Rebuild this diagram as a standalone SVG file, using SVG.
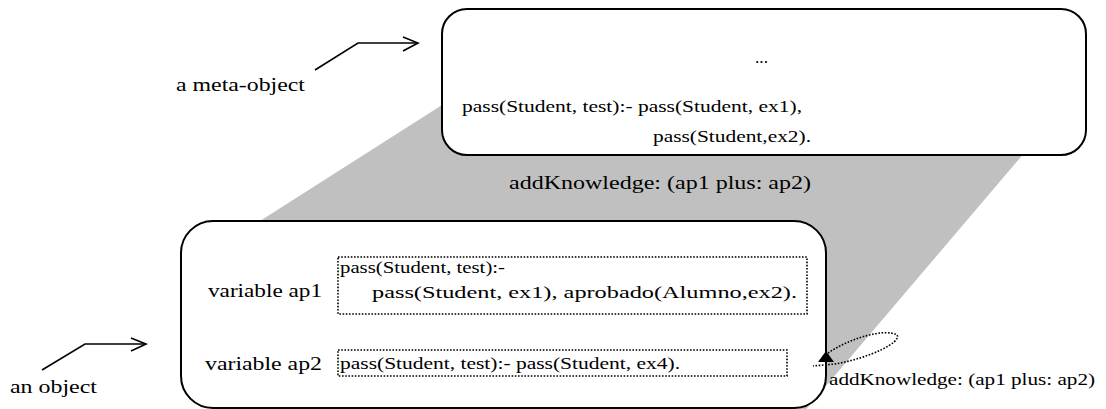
<svg xmlns="http://www.w3.org/2000/svg" width="1106" height="409" viewBox="0 0 1106 409">
<style>
text{font-family:"Liberation Serif","Times New Roman",serif;fill:#000}
.lbl{font-size:18px}
.code{font-size:16px}
.box{fill:#fff;stroke:#000;stroke-width:2}
.dot{fill:none;stroke:#000;stroke-width:1.6;stroke-dasharray:1.6 1.6}
.ln{fill:none;stroke:#000;stroke-width:1.6}
</style>
<rect width="1106" height="409" fill="#fff"/>
<polygon id="shadow" points="442,105 1031,145 797,420 300,420 260,221" fill="#c0c0c0"/>
<g id="meta-object">
<rect class="box" x="442" y="9" width="644" height="146" rx="25" ry="25"/>
<text class="code" x="755" y="63" textLength="13" lengthAdjust="spacingAndGlyphs">...</text>
<text class="code" x="462" y="112" textLength="340" lengthAdjust="spacingAndGlyphs">pass(Student, test):- pass(Student, ex1),</text>
<text class="code" x="653" y="142" textLength="158" lengthAdjust="spacingAndGlyphs">pass(Student,ex2).</text>
</g>
<g id="object">
<rect class="box" x="181" y="221" width="645" height="187" rx="32" ry="32"/>
<text class="lbl" x="208" y="297" textLength="114" lengthAdjust="spacingAndGlyphs">variable ap1</text>
<text class="lbl" x="205" y="370" textLength="117" lengthAdjust="spacingAndGlyphs">variable ap2</text>
<rect class="dot" x="338" y="257" width="469" height="57"/>
<text class="code" x="340" y="273" textLength="165" lengthAdjust="spacingAndGlyphs">pass(Student, test):-</text>
<text class="code" x="372" y="298" textLength="425" lengthAdjust="spacingAndGlyphs">pass(Student, ex1), aprobado(Alumno,ex2).</text>
<rect class="dot" x="338" y="350" width="449" height="26"/>
<text class="code" x="340" y="369" textLength="340" lengthAdjust="spacingAndGlyphs">pass(Student, test):- pass(Student, ex4).</text>
</g>
<g id="labels">
<text class="lbl" x="176" y="91" textLength="129" lengthAdjust="spacingAndGlyphs">a meta-object</text>
<text class="lbl" x="10" y="393" textLength="87" lengthAdjust="spacingAndGlyphs">an object</text>
<text class="lbl" x="509" y="189" textLength="302" lengthAdjust="spacingAndGlyphs">addKnowledge: (ap1 plus: ap2)</text>
<text class="code" x="829" y="385" textLength="266" lengthAdjust="spacingAndGlyphs">addKnowledge: (ap1 plus: ap2)</text>
</g>
<g id="connectors">
<polyline class="ln" points="315,70 358,43 418,43"/>
<polyline class="ln" points="403,37 418,43 403,51"/>
<polyline class="ln" points="42,370 85,344 146,344"/>
<polyline class="ln" points="131,338 146,344 131,351"/>
<path class="dot" d="M828,353 C850,338 885,328 897,335 C902,342 870,358 835,364 L813,366"/>
<polygon points="826,351 818,362 834,362" fill="#000"/>
</g>
</svg>
